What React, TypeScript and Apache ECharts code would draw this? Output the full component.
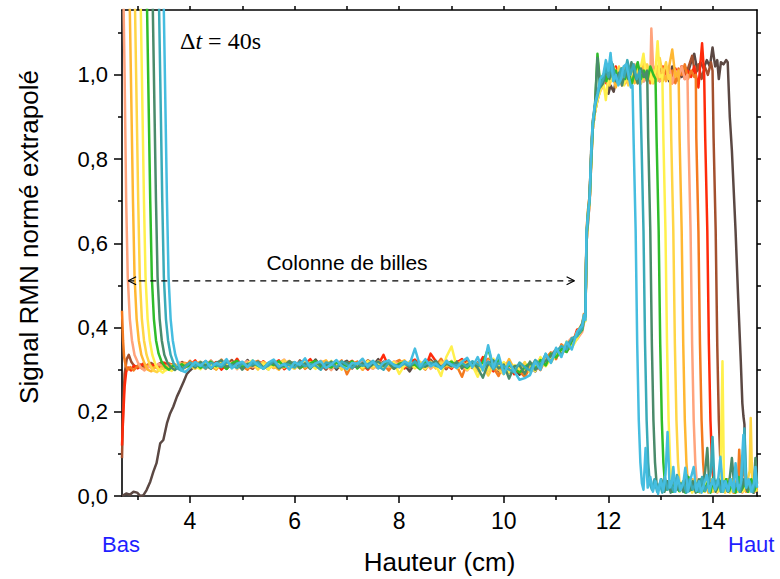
import React, { useEffect, useRef } from "react";
import * as echarts from "echarts";

// ---- axes ----
const X_MIN = 2.7;
const X_MAX = 14.84;
const Y_MIN = 0;
const Y_MAX = 1.154;
const X_LABELS = [4, 6, 8, 10, 12, 14];
const X_MINOR = [3, 5, 7, 9, 11, 13];
const X_TOP_TICKS = [3, 4, 5, 6, 7, 8, 9, 10, 11, 12, 13, 14];
const Y_LABELS = [0, 0.2, 0.4, 0.6, 0.8, 1.0];
const Y_MINOR = [0.1, 0.3, 0.5, 0.7, 0.9, 1.1];
const Y_RIGHT_TICKS = [0, 0.1, 0.2, 0.3, 0.4, 0.5, 0.6, 0.7, 0.8, 0.9, 1.0, 1.1];

// arrow "Colonne de billes" (data coordinates)
const ARROW_X = [2.82, 11.35];
const ARROW_Y = 0.511;

// shared abscissa of the bead-column plateau
const MID_X = [
  4.0, 4.1, 4.2, 4.3, 4.4, 4.5, 4.6, 4.7, 4.8, 4.9,
  5.0, 5.1, 5.2, 5.3, 5.4, 5.5, 5.6, 5.7, 5.8, 5.9,
  6.0, 6.1, 6.2, 6.3, 6.4, 6.5, 6.6, 6.7, 6.8, 6.9,
  7.0, 7.1, 7.2, 7.3, 7.4, 7.5, 7.6, 7.7, 7.8, 7.9,
  8.0, 8.1, 8.2, 8.3, 8.4, 8.5, 8.6, 8.7, 8.8, 8.9,
  9.0, 9.1, 9.2, 9.3, 9.4,
  9.5, 9.6, 9.7, 9.8, 9.9, 10.0, 10.1, 10.2, 10.3, 10.4,
  10.5, 10.6, 10.7, 10.8, 10.9, 11.0, 11.1, 11.2, 11.3, 11.4,
];

// ---------- brown ----------
const brownHead = [[2.7,0.0],[2.78,0.006],[2.85,0.003],[2.92,0.01],[2.99,0.008],[3.05,0.0],[3.11,0.002],[3.17,0.014],[3.24,0.034],[3.3,0.058],[3.36,0.078],[3.43,0.125],[3.49,0.133],[3.56,0.173],[3.62,0.196],[3.68,0.212],[3.75,0.236],[3.81,0.252],[3.88,0.272],[3.94,0.29]];
const brownMid = [
  .298,.31,.316,.305,.321,.309,.314,.302,.319,.311,
  .307,.323,.304,.315,.31,.301,.318,.312,.306,.32,
  .313,.303,.316,.309,.324,.307,.311,.318,.3,.315,
  .321,.306,.312,.304,.317,.31,.325,.303,.314,.308,
  .319,.311,.296,.316,.309,.322,.305,.313,.318,.307,
  .31,.32,.303,.314,.309,
  .317,.305,.32,.298,.31,.315,.293,.304,.288,.301,
  .309,.296,.32,.312,.335,.328,.349,.343,.36,.378];
const brownTail = [[11.5,0.395],[11.53,0.415],[11.56,0.42],[11.58,0.6],[11.61,0.65],[11.64,0.7],[11.67,0.79],[11.7,0.87],[11.74,0.91],[11.79,0.94],[11.84,0.965],
  [11.9,0.99],[11.96,1.0],[12.0,0.955],[12.04,0.975],[12.1,0.96],[12.14,0.985],[12.2,1.0],[12.26,1.01],[12.32,0.99],[12.38,1.005],[12.44,0.985],[12.5,1.015],[12.56,0.995],[12.62,1.01],[12.68,0.985],[12.74,1.02],[12.8,0.995],[12.86,1.01],[12.92,0.99],[12.98,1.015],[13.04,1.0],[13.1,1.01],[13.16,0.985],[13.22,1.02],[13.28,1.0],[13.34,1.01],[13.4,0.995],[13.46,1.02],[13.52,1.005],[13.58,1.03],[13.64,1.05],[13.7,1.01],[13.76,1.03],[13.82,1.015],[13.88,1.035],[13.94,1.02],[13.99,1.065],[14.04,1.02],[14.08,1.035],[14.11,0.99],[14.15,1.03],[14.2,1.025],[14.25,1.035],[14.28,1.03],
  [14.32,0.9],[14.36,0.82],[14.43,0.63],[14.48,0.47],[14.53,0.32],[14.56,0.22],[14.58,0.19],[14.6,0.17],[14.62,0.02],[14.67,0.01],[14.72,0.03],[14.78,0.008],[14.84,0.02]];

// ---------- sienna ----------
const siennaHead = [[2.7,0.09],[2.72,0.2],[2.75,0.29],[2.79,0.325],[2.83,0.335],[2.88,0.318],[2.95,0.306],[3.05,0.312],[3.15,0.303],[3.25,0.316],[3.35,0.309],[3.45,0.317],[3.55,0.305],[3.65,0.313],[3.75,0.308],[3.85,0.318],[3.95,0.31]];
const siennaMid = [
  .316,.305,.312,.32,.308,.301,.317,.311,.323,.306,
  .313,.309,.302,.319,.314,.307,.321,.305,.31,.316,
  .304,.322,.311,.306,.318,.313,.3,.315,.32,.308,
  .311,.303,.318,.309,.322,.314,.306,.319,.305,.313,
  .32,.307,.315,.31,.303,.317,.324,.309,.312,.301,
  .318,.306,.313,.321,.304,
  .31,.324,.3,.316,.296,.312,.305,.291,.3,.31,
  .298,.321,.309,.33,.322,.344,.338,.355,.37,.38];
const siennaTail = [[11.5,0.405],[11.53,0.427],[11.56,0.422],[11.58,0.62],[11.61,0.67],[11.64,0.71],[11.67,0.81],[11.7,0.885],[11.74,0.925],[11.79,0.95],[11.84,0.97],
  [11.9,0.985],[11.96,1.01],[12.02,0.99],[12.08,1.005],[12.14,0.98],[12.2,1.015],[12.26,0.995],[12.32,1.01],[12.38,0.985],[12.44,1.02],[12.5,0.995],[12.56,1.005],[12.62,0.98],[12.68,1.015],[12.74,0.99],[12.8,1.01],[12.86,0.995],[12.92,1.02],[12.98,0.985],[13.04,1.005],[13.1,0.99],[13.16,1.015],[13.22,0.995],[13.28,1.01],[13.34,0.985],[13.4,1.02],[13.46,1.0],[13.52,1.015],[13.6,1.045],[13.66,1.0],[13.72,1.025],[13.78,0.99],[13.84,1.02],[13.9,1.0],[13.96,1.03],[13.99,1.01],
  [14.01,0.85],[14.05,0.63],[14.08,0.36],[14.11,0.18],[14.14,0.08],[14.17,0.03],[14.21,0.015],
  [14.26,0.04],[14.32,0.01],[14.38,0.035],[14.44,0.012],[14.5,0.03],[14.56,0.01],[14.62,0.04],[14.68,0.012],[14.74,0.03],[14.8,0.01],[14.84,0.03]];

// ---------- red ----------
const redHead = [[2.7,0.12],[2.72,0.18],[2.75,0.26],[2.78,0.295],[2.82,0.305],[2.87,0.298],[2.93,0.31],[3.0,0.303],[3.1,0.314],[3.2,0.306],[3.3,0.311],[3.4,0.302],[3.5,0.317],[3.6,0.309],[3.7,0.313],[3.8,0.305],[3.9,0.316]];
const redMid = [
  .31,.322,.304,.315,.309,.318,.3,.313,.307,.326,
  .305,.316,.312,.303,.32,.309,.314,.322,.301,.311,
  .317,.306,.313,.325,.308,.302,.316,.31,.319,.305,
  .314,.321,.308,.311,.3,.316,.312,.335,.306,.317,
  .309,.303,.319,.324,.311,.305,.338,.32,.308,.314,
  .302,.317,.325,.31,.313,
  .306,.33,.312,.296,.319,.302,.31,.289,.305,.293,
  .312,.304,.326,.315,.338,.333,.352,.36,.357,.395];
const redTail = [[11.5,0.4],[11.53,0.42],[11.56,0.43],[11.58,0.615],[11.61,0.665],[11.64,0.7],[11.67,0.805],[11.7,0.88],[11.74,0.92],[11.79,0.955],[11.84,0.98],
  [11.9,1.0],[11.96,0.98],[12.02,1.01],[12.08,0.99],[12.14,1.02],[12.2,0.995],[12.26,1.005],[12.32,0.98],[12.38,1.015],[12.44,0.99],[12.5,1.01],[12.56,0.985],[12.62,1.02],[12.68,1.0],[12.74,0.99],[12.8,1.015],[12.86,0.985],[12.92,1.01],[12.98,0.995],[13.04,1.02],[13.1,0.99],[13.16,1.005],[13.22,0.98],[13.28,1.015],[13.34,0.995],[13.4,1.02],[13.46,0.99],[13.52,1.01],[13.58,0.995],[13.64,1.02],[13.72,0.97],[13.79,1.075],[13.83,1.0],
  [13.85,0.85],[13.89,0.63],[13.92,0.36],[13.95,0.18],[13.98,0.08],[14.01,0.03],[14.05,0.015],
  [14.1,0.04],[14.16,0.01],[14.22,0.035],[14.28,0.012],[14.34,0.03],[14.4,0.008],[14.46,0.04],[14.52,0.015],[14.58,0.03],[14.64,0.01],[14.7,0.035],[14.76,0.012],[14.84,0.03]];

// ---------- orange ----------
const orangeHead = [[2.7,0.44],[2.72,0.37],[2.74,0.33],[2.77,0.31],[2.81,0.3],[2.86,0.306],[2.92,0.298],[3.0,0.309],[3.1,0.302],[3.2,0.313],[3.3,0.305],[3.4,0.31],[3.5,0.301],[3.6,0.315],[3.7,0.308],[3.8,0.312],[3.9,0.304]];
const orangeMid = [
  .321,.307,.313,.302,.317,.311,.324,.305,.312,.318,
  .309,.3,.316,.321,.307,.313,.304,.319,.31,.315,
  .306,.318,.302,.312,.32,.309,.315,.303,.311,.322,
  .289,.313,.319,.3,.315,.309,.304,.313,.298,.316,
  .323,.31,.306,.317,.312,.3,.319,.308,.326,.305,
  .314,.309,.283,.318,.311,
  .302,.318,.326,.305,.285,.315,.297,.306,.296,.283,
  .305,.313,.299,.327,.341,.325,.36,.347,.364,.385];
const orangeTail = [[11.5,0.408],[11.53,0.432],[11.56,0.42],[11.58,0.63],[11.61,0.68],[11.64,0.715],[11.67,0.82],[11.7,0.89],[11.74,0.925],[11.79,0.96],[11.84,0.975],
  [11.9,0.99],[11.96,1.005],[12.02,0.98],[12.08,1.015],[12.14,0.995],[12.2,1.01],[12.26,0.975],[12.32,1.0],[12.38,1.02],[12.44,0.99],[12.5,1.005],[12.56,0.98],[12.62,1.015],[12.68,0.995],[12.74,1.01],[12.8,0.98],[12.86,1.02],[12.92,0.99],[12.98,1.005],[13.04,0.985],[13.1,1.02],[13.16,0.995],[13.22,1.01],[13.28,0.98],[13.34,1.015],[13.4,1.0],[13.46,1.025],[13.52,0.99],[13.58,1.01],[13.64,0.995],[13.67,1.0],
  [13.68,0.85],[13.72,0.63],[13.75,0.36],[13.78,0.18],[13.81,0.08],[13.84,0.03],[13.88,0.015],
  [13.93,0.04],[13.99,0.01],[14.05,0.035],[14.11,0.012],[14.17,0.03],[14.23,0.01],[14.29,0.04],[14.35,0.012],[14.41,0.03],[14.47,0.02],[14.5,0.11],[14.53,0.035],[14.59,0.07],[14.62,0.02],[14.68,0.035],[14.74,0.01],[14.8,0.04],[14.84,0.015]];

// ---------- peach ----------
const peachHead = [[2.72,1.25],[2.75,1.0],[2.78,0.7],[2.81,0.52],[2.85,0.42],[2.89,0.37],[2.94,0.335],[3.0,0.318],[3.06,0.305],[3.13,0.298],[3.2,0.308],[3.3,0.302],[3.4,0.314],[3.5,0.306],[3.6,0.311],[3.7,0.303],[3.8,0.317],[3.9,0.309]];
const peachMid = [
  .312,.318,.305,.31,.322,.303,.315,.309,.317,.301,
  .314,.32,.306,.311,.317,.303,.31,.315,.324,.307,
  .312,.304,.317,.31,.306,.321,.313,.299,.316,.311,
  .305,.318,.312,.323,.309,.302,.316,.311,.306,.32,
  .313,.308,.317,.305,.311,.319,.302,.314,.31,.323,
  .306,.315,.31,.298,.317,
  .31,.3,.321,.312,.304,.317,.308,.297,.315,.31,
  .302,.312,.327,.319,.335,.349,.341,.362,.376,.372];
const peachTail = [[11.5,0.39],[11.53,0.41],[11.56,0.425],[11.58,0.6],[11.61,0.655],[11.64,0.69],[11.67,0.79],[11.7,0.87],[11.74,0.91],[11.79,0.945],[11.84,0.96],
  [11.9,0.975],[11.96,1.0],[12.02,1.02],[12.08,0.99],[12.14,1.005],[12.2,0.985],[12.26,1.015],[12.32,0.99],[12.38,1.01],[12.44,0.98],[12.5,1.025],[12.56,0.995],[12.62,1.01],[12.68,0.985],[12.74,1.02],[12.8,0.99],[12.82,1.11],[12.86,1.0],[12.92,1.015],[12.98,0.985],[13.04,1.005],[13.1,0.99],[13.16,1.02],[13.22,0.98],[13.28,1.01],[13.34,0.995],[13.4,1.02],[13.46,0.99],[13.51,1.0],
  [13.53,0.85],[13.57,0.63],[13.6,0.36],[13.63,0.18],[13.66,0.08],[13.69,0.03],[13.73,0.015],
  [13.78,0.035],[13.84,0.01],[13.9,0.04],[13.96,0.012],[14.02,0.03],[14.08,0.008],[14.14,0.035],[14.2,0.015],[14.26,0.03],[14.32,0.01],[14.38,0.04],[14.44,0.012],[14.5,0.03],[14.56,0.008],[14.62,0.035],[14.68,0.012],[14.74,0.03],[14.8,0.01],[14.84,0.03]];

// ---------- amber ----------
const amberHead = [[2.83,1.3],[2.87,1.0],[2.91,0.7],[2.94,0.52],[2.98,0.42],[3.02,0.37],[3.07,0.335],[3.13,0.315],[3.19,0.3],[3.26,0.296],[3.33,0.306],[3.42,0.3],[3.5,0.311],[3.6,0.304],[3.7,0.313],[3.8,0.307],[3.9,0.316]];
const amberMid = [
  .306,.313,.319,.308,.311,.3,.316,.322,.309,.312,
  .318,.305,.311,.317,.302,.316,.309,.3,.315,.321,
  .308,.313,.305,.318,.311,.316,.322,.307,.31,.303,
  .317,.309,.314,.3,.321,.311,.307,.315,.31,.302,
  .316,.322,.308,.313,.305,.31,.318,.303,.32,.311,
  .307,.314,.321,.303,.312,
  .315,.304,.298,.318,.31,.3,.325,.301,.312,.297,
  .308,.32,.306,.316,.329,.342,.337,.35,.366,.387];
const amberTail = [[11.5,0.402],[11.53,0.424],[11.56,0.42],[11.58,0.61],[11.61,0.67],[11.64,0.7],[11.67,0.8],[11.7,0.875],[11.74,0.92],[11.79,0.95],[11.84,0.97],
  [11.9,0.99],[11.96,1.01],[12.02,0.985],[12.08,1.0],[12.14,0.97],[12.2,1.005],[12.26,0.99],[12.32,1.02],[12.38,0.995],[12.44,1.01],[12.5,0.98],[12.56,1.015],[12.62,0.99],[12.68,1.03],[12.74,0.995],[12.8,1.01],[12.86,0.98],[12.92,1.02],[12.98,0.99],[13.04,1.005],[13.1,0.985],[13.16,1.02],[13.22,1.06],[13.28,0.995],[13.34,1.01],
  [13.36,0.85],[13.4,0.63],[13.43,0.36],[13.46,0.18],[13.49,0.08],[13.52,0.03],[13.56,0.015],
  [13.61,0.04],[13.67,0.01],[13.73,0.035],[13.79,0.012],[13.85,0.03],[13.91,0.008],[13.97,0.04],[14.03,0.015],[14.09,0.03],[14.15,0.01],[14.21,0.04],[14.27,0.012],[14.33,0.03],[14.39,0.008],[14.45,0.035],[14.51,0.015],[14.57,0.03],[14.63,0.01],[14.69,0.04],[14.75,0.012],[14.84,0.03]];

// ---------- gold ----------
const goldHead = [[2.93,1.3],[2.97,1.0],[3.01,0.7],[3.04,0.52],[3.08,0.42],[3.12,0.37],[3.17,0.335],[3.23,0.312],[3.3,0.298],[3.37,0.294],[3.45,0.303],[3.55,0.299],[3.65,0.31],[3.75,0.305],[3.85,0.314],[3.93,0.306]];
const goldMid = [
  .309,.302,.315,.311,.318,.306,.313,.32,.304,.317,
  .311,.308,.314,.3,.318,.312,.305,.316,.322,.309,
  .302,.315,.31,.307,.313,.319,.305,.311,.317,.3,
  .312,.318,.306,.313,.311,.304,.32,.308,.313,.318,
  .305,.311,.316,.303,.319,.309,.312,.304,.317,.31,
  .321,.303,.308,.315,.31,
  .296,.313,.286,.31,.3,.289,.314,.305,.3,.318,
  .292,.308,.318,.324,.317,.337,.356,.345,.358,.389];
const goldTail = [[11.5,0.41],[11.53,0.43],[11.56,0.425],[11.58,0.625],[11.61,0.68],[11.64,0.71],[11.67,0.81],[11.7,0.88],[11.74,0.915],[11.79,0.945],[11.84,0.965],
  [11.9,0.98],[11.96,1.0],[12.02,0.975],[12.08,1.01],[12.14,0.99],[12.2,1.02],[12.26,0.985],[12.32,1.005],[12.38,0.975],[12.44,1.015],[12.5,0.995],[12.56,1.02],[12.62,0.98],[12.68,1.0],[12.74,1.025],[12.8,0.99],[12.86,1.01],[12.92,0.985],[12.98,1.04],[13.04,1.0],[13.1,1.03],[13.15,0.99],[13.18,1.0],
  [13.2,0.85],[13.24,0.63],[13.27,0.36],[13.3,0.18],[13.33,0.08],[13.36,0.03],[13.4,0.015],
  [13.45,0.035],[13.51,0.01],[13.57,0.04],[13.63,0.012],[13.69,0.03],[13.75,0.008],[13.81,0.04],[13.87,0.015],[13.93,0.03],[13.99,0.01],[14.05,0.035],[14.11,0.012],[14.17,0.03],[14.23,0.008],[14.29,0.04],[14.35,0.012],[14.41,0.03],[14.47,0.01],[14.53,0.035],[14.59,0.012],[14.65,0.03],[14.7,0.06],[14.72,0.185],[14.75,0.02],[14.8,0.035],[14.84,0.01]];

// ---------- light yellow ----------
const lyellowHead = [[3.04,1.3],[3.08,1.0],[3.12,0.7],[3.15,0.52],[3.19,0.42],[3.23,0.37],[3.28,0.335],[3.34,0.312],[3.41,0.299],[3.48,0.293],[3.56,0.302],[3.65,0.297],[3.75,0.309],[3.85,0.303],[3.93,0.311]];
const lyellowMid = [
  .314,.308,.301,.317,.312,.305,.319,.31,.316,.303,
  .309,.315,.322,.306,.313,.3,.317,.311,.305,.318,
  .312,.306,.319,.313,.302,.316,.31,.321,.307,.314,
  .3,.316,.311,.305,.32,.309,.315,.303,.312,.317,
  .29,.31,.319,.306,.313,.302,.318,.311,.285,.33,
  .355,.307,.314,.3,.31,
  .283,.312,.3,.326,.305,.318,.293,.311,.302,.3,
  .314,.297,.33,.308,.326,.339,.335,.367,.352,.373];
const lyellowTail = [[11.5,0.4],[11.53,0.422],[11.56,0.415],[11.58,0.6],[11.61,0.66],[11.64,0.7],[11.67,0.79],[11.7,0.87],[11.74,0.91],[11.79,0.94],[11.84,0.96],
  [11.9,0.985],[11.95,0.94],[12.0,1.0],[12.06,0.985],[12.12,1.015],[12.18,0.99],[12.24,1.0],[12.3,0.975],[12.36,1.01],[12.42,0.995],[12.48,1.02],[12.54,0.985],[12.6,1.005],[12.67,1.05],[12.72,0.99],[12.78,1.015],[12.84,0.98],[12.9,1.01],[12.94,1.08],[12.98,0.995],[13.03,1.0],
  [13.05,0.85],[13.09,0.63],[13.12,0.36],[13.15,0.18],[13.18,0.08],[13.21,0.03],[13.25,0.015],
  [13.3,0.04],[13.36,0.01],[13.42,0.035],[13.48,0.012],[13.54,0.03],[13.6,0.008],[13.66,0.04],[13.72,0.015],[13.78,0.03],[13.84,0.01],[13.9,0.045],[13.96,0.012],[14.02,0.03],[14.08,0.01],[14.14,0.03],[14.18,0.32],[14.21,0.015],[14.26,0.03],[14.32,0.008],[14.38,0.04],[14.44,0.012],[14.5,0.03],[14.56,0.01],[14.62,0.04],[14.68,0.01],[14.74,0.035],[14.8,0.012],[14.84,0.03]];

// ---------- green ----------
const greenHead = [[3.16,1.3],[3.2,1.0],[3.24,0.7],[3.27,0.52],[3.31,0.42],[3.35,0.37],[3.4,0.338],[3.46,0.318],[3.53,0.306],[3.6,0.3],[3.68,0.31],[3.76,0.304],[3.84,0.313],[3.92,0.307]];
const greenMid = [
  .31,.316,.304,.311,.319,.308,.313,.302,.315,.321,
  .306,.312,.318,.309,.303,.316,.311,.32,.307,.313,
  .317,.304,.31,.315,.321,.308,.312,.305,.318,.311,
  .309,.32,.303,.314,.31,.317,.306,.312,.321,.304,
  .314,.317,.309,.312,.301,.318,.31,.315,.306,.313,
  .319,.308,.311,.304,.316,
  .309,.317,.35,.306,.323,.298,.311,.302,.293,.305,
  .316,.301,.323,.31,.338,.329,.35,.342,.368,.38];
const greenTail = [[11.5,0.395],[11.53,0.418],[11.56,0.428],[11.58,0.615],[11.61,0.67],[11.64,0.705],[11.67,0.8],[11.7,0.885],[11.74,0.92],[11.79,1.05],[11.84,0.98],
  [11.9,1.0],[11.96,0.985],[12.02,1.02],[12.08,0.995],[12.14,1.01],[12.2,0.98],[12.26,1.015],[12.32,0.99],[12.38,1.02],[12.44,0.975],[12.5,1.005],[12.56,1.03],[12.62,0.99],[12.68,1.01],[12.74,0.985],[12.8,1.02],[12.86,1.0],[12.9,0.99],
  [12.92,0.85],[12.96,0.63],[12.99,0.36],[13.02,0.18],[13.05,0.08],[13.08,0.03],[13.12,0.015],
  [13.17,0.035],[13.23,0.01],[13.29,0.04],[13.35,0.012],[13.41,0.03],[13.47,0.008],[13.53,0.045],[13.59,0.015],[13.65,0.035],[13.71,0.01],[13.77,0.04],[13.83,0.012],[13.89,0.03],[13.95,0.008],[14.01,0.045],[14.07,0.015],[14.13,0.035],[14.19,0.01],[14.25,0.04],[14.31,0.012],[14.37,0.03],[14.43,0.008],[14.49,0.045],[14.55,0.015],[14.61,0.03],[14.67,0.01],[14.73,0.04],[14.79,0.012],[14.84,0.03]];

// ---------- dark green ----------
const dgreenHead = [[3.27,1.3],[3.31,1.0],[3.35,0.7],[3.38,0.52],[3.42,0.42],[3.46,0.37],[3.51,0.335],[3.57,0.316],[3.64,0.305],[3.71,0.299],[3.79,0.309],[3.87,0.303],[3.94,0.312]];
const dgreenMid = [
  .313,.305,.318,.31,.302,.316,.322,.307,.311,.315,
  .3,.314,.309,.319,.305,.312,.316,.303,.31,.32,
  .311,.307,.315,.302,.317,.312,.308,.319,.305,.313,
  .318,.31,.306,.316,.303,.313,.319,.309,.315,.302,
  .311,.316,.305,.32,.31,.307,.313,.321,.304,.315,
  .308,.318,.305,.312,.318,
  .304,.281,.315,.322,.303,.312,.279,.308,.31,.29,
  .319,.3,.311,.321,.333,.348,.335,.358,.371,.384];
const dgreenTail = [[11.5,0.41],[11.53,0.425],[11.56,0.43],[11.58,0.62],[11.61,0.66],[11.64,0.72],[11.67,0.81],[11.7,0.88],[11.74,0.92],[11.79,1.04],[11.84,0.97],
  [11.9,0.98],[11.96,1.01],[12.02,0.99],[12.08,1.025],[12.14,0.985],[12.2,1.005],[12.26,0.975],[12.32,1.01],[12.38,0.99],[12.44,1.03],[12.5,1.0],[12.56,0.98],[12.62,1.015],[12.68,0.995],[12.74,1.01],
  [12.76,0.85],[12.8,0.63],[12.83,0.36],[12.86,0.18],[12.89,0.08],[12.92,0.03],[12.96,0.015],
  [13.01,0.04],[13.07,0.01],[13.13,0.035],[13.19,0.008],[13.25,0.045],[13.31,0.015],[13.37,0.03],[13.43,0.01],[13.49,0.05],[13.55,0.012],[13.61,0.035],[13.67,0.008],[13.73,0.04],[13.79,0.015],[13.85,0.06],[13.89,0.114],[13.93,0.02],[13.99,0.035],[14.05,0.01],[14.11,0.04],[14.17,0.015],[14.23,0.03],[14.29,0.01],[14.36,0.09],[14.41,0.015],[14.47,0.035],[14.53,0.01],[14.59,0.04],[14.65,0.012],[14.71,0.03],[14.77,0.008],[14.81,0.09],[14.84,0.03]];

// ---------- teal ----------
const tealHead = [[3.39,1.3],[3.43,1.0],[3.47,0.7],[3.5,0.52],[3.54,0.42],[3.58,0.37],[3.63,0.335],[3.69,0.314],[3.76,0.303],[3.83,0.298],[3.91,0.307]];
const tealMid = [
  .317,.309,.312,.303,.316,.311,.306,.319,.31,.304,
  .315,.308,.313,.317,.302,.31,.321,.306,.314,.311,
  .305,.319,.308,.313,.31,.3,.317,.314,.305,.32,
  .312,.304,.316,.309,.313,.321,.308,.3,.317,.312,
  .307,.314,.31,.319,.304,.313,.317,.309,.305,.318,
  .312,.31,.316,.307,.32,
  .313,.304,.319,.301,.316,.308,.3,.294,.317,.306,
  .298,.323,.311,.337,.318,.343,.356,.348,.375,.379];
const tealTail = [[11.5,0.398],[11.53,0.42],[11.56,0.425],[11.58,0.61],[11.61,0.675],[11.64,0.7],[11.67,0.8],[11.7,0.875],[11.74,0.925],[11.79,0.95],[11.84,0.975],
  [11.9,0.99],[11.95,1.02],[12.0,0.995],[12.06,1.03],[12.12,1.0],[12.18,0.98],[12.24,1.015],[12.3,0.995],[12.36,1.035],[12.42,1.0],[12.48,1.025],[12.54,0.99],[12.6,1.01],
  [12.63,0.85],[12.67,0.63],[12.7,0.36],[12.73,0.18],[12.76,0.08],[12.79,0.03],[12.83,0.015],
  [12.88,0.04],[12.93,0.01],[12.98,0.03],[13.03,0.008],[13.08,0.045],[13.13,0.015],[13.19,0.03],[13.25,0.01],[13.31,0.05],[13.37,0.012],[13.43,0.035],[13.49,0.008],[13.55,0.04],[13.61,0.015],[13.67,0.03],[13.73,0.01],[13.79,0.045],[13.85,0.012],[13.91,0.03],[13.96,0.06],[13.99,0.14],[14.03,0.02],[14.09,0.04],[14.15,0.01],[14.21,0.035],[14.27,0.012],[14.33,0.04],[14.39,0.015],[14.45,0.03],[14.51,0.01],[14.56,0.05],[14.6,0.16],[14.64,0.02],[14.7,0.035],[14.76,0.01],[14.81,0.04],[14.84,0.02]];

// ---------- cyan ----------
const cyanHead = [[3.48,1.3],[3.52,1.0],[3.56,0.7],[3.59,0.52],[3.63,0.42],[3.67,0.37],[3.72,0.335],[3.78,0.312],[3.84,0.298],[3.91,0.294]];
const cyanMid = [
  .305,.318,.309,.321,.304,.316,.311,.325,.303,.314,
  .319,.306,.322,.31,.302,.317,.324,.308,.313,.3,
  .318,.311,.327,.305,.315,.32,.304,.312,.323,.309,
  .301,.316,.314,.326,.307,.319,.303,.317,.322,.31,
  .306,.32,.313,.35,.308,.325,.308,.315,.302,.321,
  .311,.304,.319,.328,.306,
  .33,.298,.358,.305,.335,.29,.318,.296,.276,.28,
  .287,.318,.3,.338,.316,.352,.33,.366,.348,.39];
const cyanTail = [[11.5,0.405],[11.53,0.43],[11.56,0.418],[11.58,0.63],[11.61,0.665],[11.64,0.71],[11.67,0.82],[11.7,0.89],[11.74,0.93],[11.79,0.955],[11.84,0.99],
  [11.9,1.0],[11.95,1.035],[12.0,1.01],[12.04,1.052],[12.09,0.985],[12.14,1.0],[12.19,0.975],[12.24,0.99],[12.29,1.02],[12.34,1.025],[12.39,0.995],[12.43,0.97],[12.46,0.975],
  [12.48,0.85],[12.52,0.63],[12.55,0.36],[12.58,0.18],[12.61,0.08],[12.64,0.03],[12.67,0.015],
  [12.71,0.114],[12.75,0.02],[12.8,0.045],[12.85,0.01],[12.9,0.035],[12.95,0.005],[13.0,0.04],[13.05,0.012],[13.09,0.05],[13.13,0.152],[13.17,0.02],[13.21,0.03],[13.24,0.069],[13.28,0.01],[13.33,0.045],[13.38,0.015],[13.43,0.03],[13.47,0.067],[13.52,0.01],[13.57,0.04],[13.63,0.069],[13.68,0.012],[13.73,0.035],[13.78,0.008],[13.83,0.03],[13.88,0.05],[13.93,0.01],[13.99,0.04],[14.04,0.015],[14.09,0.03],[14.14,0.093],[14.19,0.01],[14.24,0.035],[14.29,0.012],[14.34,0.04],[14.39,0.01],[14.43,0.078],[14.48,0.015],[14.53,0.03],[14.58,0.145],[14.63,0.02],[14.68,0.04],[14.73,0.01],[14.78,0.03],[14.81,0.069],[14.84,0.02]];

const SERIES_DEFS = [
  { name: "brown", color: "#5b4843", head: brownHead, mid: brownMid, tail: brownTail },
  { name: "sienna", color: "#a3502e", head: siennaHead, mid: siennaMid, tail: siennaTail },
  { name: "red", color: "#ff2a0a", head: redHead, mid: redMid, tail: redTail },
  { name: "orange", color: "#f47a1f", head: orangeHead, mid: orangeMid, tail: orangeTail },
  { name: "peach", color: "#ffa37c", head: peachHead, mid: peachMid, tail: peachTail },
  { name: "amber", color: "#ffb732", head: amberHead, mid: amberMid, tail: amberTail },
  { name: "gold", color: "#ffd545", head: goldHead, mid: goldMid, tail: goldTail },
  { name: "lyellow", color: "#fff04c", head: lyellowHead, mid: lyellowMid, tail: lyellowTail },
  { name: "green", color: "#2fbd2a", head: greenHead, mid: greenMid, tail: greenTail },
  { name: "dgreen", color: "#4a8b6b", head: dgreenHead, mid: dgreenMid, tail: dgreenTail },
  { name: "teal", color: "#3aabb8", head: tealHead, mid: tealMid, tail: tealTail },
  { name: "cyan", color: "#45bde0", head: cyanHead, mid: cyanMid, tail: cyanTail },
];

const SANS = '"Liberation Sans", Arial, sans-serif';
const SERIF = '"Liberation Serif", "Times New Roman", serif';
const fmt = (v: number) => v.toFixed(1).replace(".", ",");

export default function App() {
  const ref = useRef<HTMLDivElement>(null);
  useEffect(() => {
    if (!ref.current) return;
    const chart = echarts.init(ref.current, undefined, { renderer: "svg" });

    const dataSeries = SERIES_DEFS.map((s) => ({
      type: "line",
      name: s.name,
      data: [...s.head, ...MID_X.map((x, i) => [x, s.mid[i]]), ...s.tail],
      showSymbol: false,
      symbol: "none",
      clip: true,
      silent: true,
      lineStyle: { color: s.color, width: 2.5, join: "round" },
      itemStyle: { color: s.color },
      z: 2,
    }));

    const arrowDx = 0.15;
    const arrowDy = 0.0095;
    const arrowSeries = [
      {
        type: "line",
        data: [[ARROW_X[0], ARROW_Y], [ARROW_X[1], ARROW_Y]],
        symbol: "none",
        silent: true,
        lineStyle: { color: "#000", width: 1.2, type: [6, 5] },
        z: 3,
      },
      {
        type: "line",
        data: [[ARROW_X[0] + arrowDx, ARROW_Y + arrowDy], [ARROW_X[0], ARROW_Y], [ARROW_X[0] + arrowDx, ARROW_Y - arrowDy]],
        symbol: "none",
        silent: true,
        lineStyle: { color: "#000", width: 1.2 },
        z: 3,
      },
      {
        type: "line",
        data: [[ARROW_X[1] - arrowDx, ARROW_Y + arrowDy], [ARROW_X[1], ARROW_Y], [ARROW_X[1] - arrowDx, ARROW_Y - arrowDy]],
        symbol: "none",
        silent: true,
        lineStyle: { color: "#000", width: 1.2 },
        z: 3,
      },
    ];

    const axisLine = { show: true, onZero: false, lineStyle: { color: "#000", width: 1.6 } };

    chart.setOption({
      animation: false,
      backgroundColor: "#fff",
      grid: { left: 122, right: 23, top: 10, bottom: 83, containLabel: false, outerBoundsMode: "none" },
      xAxis: [
        {
          type: "value", min: X_MIN, max: X_MAX, position: "bottom",
          axisLine,
          axisTick: { show: true, inside: false, length: 7, customValues: X_LABELS, lineStyle: { color: "#000", width: 1.5 } },
          axisLabel: { show: true, customValues: X_LABELS, margin: 13, fontSize: 23, color: "#000", fontFamily: SANS },
          splitLine: { show: false },
          name: "Hauteur (cm)", nameLocation: "middle", nameGap: 53,
          nameTextStyle: { fontSize: 26, color: "#000", fontFamily: SANS },
        },
        {
          type: "value", min: X_MIN, max: X_MAX, position: "bottom",
          axisLine: { show: false, onZero: false },
          axisTick: { show: true, inside: false, length: 4, customValues: X_MINOR, lineStyle: { color: "#000", width: 1.5 } },
          axisLabel: { show: false },
          splitLine: { show: false },
        },
        {
          type: "value", min: X_MIN, max: X_MAX, position: "top",
          axisLine,
          axisTick: { show: true, inside: false, length: 4, customValues: X_TOP_TICKS, lineStyle: { color: "#000", width: 1.5 } },
          axisLabel: { show: false },
          splitLine: { show: false },
        },
      ],
      yAxis: [
        {
          type: "value", min: Y_MIN, max: Y_MAX, position: "left",
          axisLine,
          axisTick: { show: true, inside: false, length: 8, customValues: Y_LABELS, lineStyle: { color: "#000", width: 1.5 } },
          axisLabel: { show: true, customValues: Y_LABELS, formatter: fmt, margin: 14, fontSize: 22, color: "#000", fontFamily: SANS },
          splitLine: { show: false },
          name: "Signal RMN normé extrapolé", nameLocation: "middle", nameGap: 80, nameRotate: 90,
          nameTextStyle: { fontSize: 26, color: "#000", fontFamily: SANS, padding: [0, 0, 0, 32] },
        },
        {
          type: "value", min: Y_MIN, max: Y_MAX, position: "left",
          axisLine: { show: false, onZero: false },
          axisTick: { show: true, inside: false, length: 4, customValues: Y_MINOR, lineStyle: { color: "#000", width: 1.5 } },
          axisLabel: { show: false },
          splitLine: { show: false },
        },
        {
          type: "value", min: Y_MIN, max: Y_MAX, position: "right",
          axisLine,
          axisTick: { show: true, inside: false, length: 4, customValues: Y_RIGHT_TICKS, lineStyle: { color: "#000", width: 1.5 } },
          axisLabel: { show: false },
          splitLine: { show: false },
        },
      ],
      series: [...dataSeries, ...arrowSeries],
      graphic: [
        {
          type: "text", left: 180, top: 29,
          style: {
            text: "{n|Δ}{i|t}{n| = 40s}",
            rich: {
              n: { fontFamily: SERIF, fontSize: 24, fill: "#000" },
              i: { fontFamily: SERIF, fontSize: 24, fontStyle: "italic", fill: "#000" },
            },
          },
        },
        {
          type: "text", x: 347, y: 262,
          style: { text: "Colonne de billes", font: `21px ${SANS}`, fill: "#000", textAlign: "center", textVerticalAlign: "middle" },
        },
        {
          type: "text", left: 102, top: 533,
          style: { text: "Bas", font: `22px ${SANS}`, fill: "#1f1fff" },
        },
        {
          type: "text", left: 728, top: 533,
          style: { text: "Haut", font: `22px ${SANS}`, fill: "#1f1fff" },
        },
      ],
    });
    return () => chart.dispose();
  }, []);
  return (
    <div
      ref={ref}
      style={{ position: "fixed", left: 0, top: 0, width: 780, height: 579, background: "#fff" }}
    />
  );
}
